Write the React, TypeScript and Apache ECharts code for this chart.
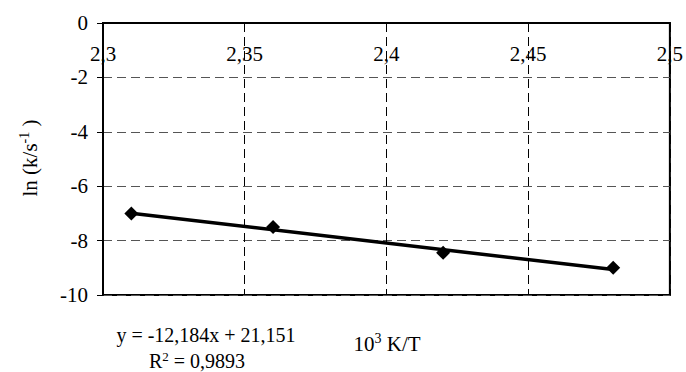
import React, { useEffect, useRef } from "react";
import * as echarts from "echarts";

// Arrhenius-type plot: reciprocal temperature vs. ln of rate constant
const invTemperature = [2.31, 2.36, 2.42, 2.48];
const lnRate = [-7.0, -7.5, -8.45, -9.0];

// Linear fit reported on the chart
const fitSlope = -12.184;
const fitIntercept = 21.151;
const fitR2 = "0,9893";

const xTicks = { min: 2.3, max: 2.5, interval: 0.05 };
const yTicks = { min: -10, max: 0, interval: 2 };

const SERIF = "Liberation Serif";

const comma = (v: number) => String(Math.round(v * 1000) / 1000).replace(".", ",");

export default function App() {
  const ref = useRef<HTMLDivElement>(null);

  useEffect(() => {
    if (!ref.current) return;
    const chart = echarts.init(ref.current, undefined, { renderer: "svg" });

    const x0 = invTemperature[0];
    const x1 = invTemperature[invTemperature.length - 1];
    const fitLine = [
      [x0, fitSlope * x0 + fitIntercept],
      [x1, fitSlope * x1 + fitIntercept],
    ];

    const sup = (size: number, lh: number) => ({
      fontFamily: SERIF,
      fontSize: size,
      fill: "#000",
      verticalAlign: "top",
      lineHeight: lh,
    });
    const main = (size: number, lh: number) => ({
      fontFamily: SERIF,
      fontSize: size,
      fill: "#000",
      lineHeight: lh,
    });

    chart.setOption({
      animation: false,
      backgroundColor: "#ffffff",
      textStyle: { fontFamily: SERIF },
      grid: {
        left: 103,
        top: 23,
        right: 14,
        bottom: 77,
        show: true,
        borderColor: "#000",
        borderWidth: 2,
        backgroundColor: "transparent",
      },
      xAxis: {
        type: "value",
        position: "top",
        min: xTicks.min,
        max: xTicks.max,
        interval: xTicks.interval,
        axisLine: { show: true, onZero: false, lineStyle: { color: "#000", width: 2 } },
        axisTick: { show: false },
        axisLabel: {
          inside: true,
          margin: 20,
          showMaxLabel: true,
          showMinLabel: true,
          color: "#000",
          fontFamily: SERIF,
          fontSize: 21,
          formatter: comma,
        },
        splitLine: {
          show: true,
          lineStyle: { color: "#000", type: [9, 5], width: 1 },
        },
      },
      yAxis: {
        type: "value",
        min: yTicks.min,
        max: yTicks.max,
        interval: yTicks.interval,
        axisLine: { show: true, lineStyle: { color: "#000", width: 2 } },
        axisTick: { show: true, length: 6, lineStyle: { color: "#000", width: 1 } },
        axisLabel: {
          margin: 15,
          color: "#000",
          fontFamily: SERIF,
          fontSize: 21,
        },
        splitLine: {
          show: true,
          lineStyle: { color: "#555", type: [9, 5], width: 1 },
        },
      },
      series: [
        {
          type: "line",
          data: fitLine,
          symbol: "none",
          lineStyle: { color: "#000", width: 3.5 },
          z: 3,
        },
        {
          type: "scatter",
          data: invTemperature.map((x, i) => [x, lnRate[i]]),
          symbol: "diamond",
          symbolSize: 14,
          itemStyle: { color: "#000", opacity: 1 },
          z: 4,
        },
      ],
      graphic: [
        {
          type: "text",
          x: 30,
          y: 158,
          rotation: Math.PI / 2,
          style: {
            text: "{a|ln (k/s}{s|-1}{a| )}",
            align: "center",
            verticalAlign: "middle",
            fill: "#000",
            rich: { a: main(21, 26), s: sup(14, 26) },
          },
        },
        {
          type: "text",
          x: 387,
          y: 344,
          style: {
            text: "{a|10}{s|3}{a| K/T}",
            align: "center",
            verticalAlign: "middle",
            fill: "#000",
            rich: { a: main(21, 26), s: sup(14, 26) },
          },
        },
        {
          type: "text",
          x: 206,
          y: 335,
          style: {
            text: "y = " + comma(fitSlope) + "x + " + comma(fitIntercept),
            align: "center",
            verticalAlign: "middle",
            fill: "#000",
            fontFamily: SERIF,
            fontSize: 20,
          },
        },
        {
          type: "text",
          x: 197,
          y: 361,
          style: {
            text: "{a|R}{s|2}{a| = " + fitR2 + "}",
            align: "center",
            verticalAlign: "middle",
            fill: "#000",
            rich: { a: main(20, 22), s: sup(13, 22) },
          },
        },
      ],
    });

    return () => chart.dispose();
  }, []);

  return (
    <div
      ref={ref}
      style={{ position: "fixed", left: 0, top: 0, width: 686, height: 372 }}
    />
  );
}
